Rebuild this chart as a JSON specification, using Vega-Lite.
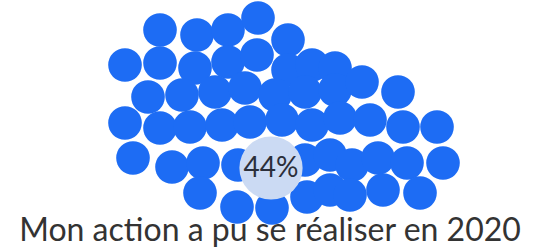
{
  "$schema": "https://vega.github.io/schema/vega-lite/v6.json",
  "width": 539,
  "height": 249,
  "autosize": "none",
  "padding": 0,
  "background": "white",
  "config": {"view": {"stroke": null}},
  "layer": [
    {
      "data": {"values": [
        {"x":160,"y":30},{"x":197,"y":35},{"x":228,"y":30},{"x":258,"y":18},{"x":288,"y":40},
        {"x":125,"y":65},{"x":160,"y":63},{"x":195,"y":68},{"x":228,"y":62},{"x":257,"y":55},{"x":288,"y":70},{"x":312,"y":65},{"x":335,"y":68},
        {"x":148,"y":97},{"x":182,"y":95},{"x":215,"y":92},{"x":245,"y":88},{"x":275,"y":95},{"x":305,"y":92},{"x":335,"y":90},{"x":362,"y":82},{"x":398,"y":92},
        {"x":125,"y":123},{"x":160,"y":128},{"x":190,"y":127},{"x":222,"y":125},{"x":250,"y":122},{"x":282,"y":120},{"x":312,"y":125},{"x":340,"y":118},{"x":370,"y":120},{"x":403,"y":127},{"x":437,"y":127},
        {"x":133,"y":158},{"x":172,"y":167},{"x":203,"y":163},{"x":238,"y":165},{"x":305,"y":160},{"x":330,"y":155},{"x":352,"y":165},{"x":378,"y":158},{"x":407,"y":163},{"x":443,"y":163},
        {"x":200,"y":193},{"x":237,"y":207},{"x":272,"y":208},{"x":307,"y":197},{"x":330,"y":190},{"x":350,"y":195},{"x":383,"y":190},{"x":420,"y":193}
      ]},
      "mark": {"type": "circle", "color": "#1d6cf4", "opacity": 1, "size": 1130},
      "encoding": {
        "x": {"field": "x", "type": "quantitative", "scale": {"domain": [0, 539]}, "axis": null},
        "y": {"field": "y", "type": "quantitative", "scale": {"domain": [0, 249], "reverse": true}, "axis": null}
      }
    },
    {
      "data": {"values": [{"x": 271, "y": 168, "label": "44%"}]},
      "layer": [
        {
          "mark": {"type": "circle", "color": "#cbdaf3", "opacity": 1, "size": 4000},
          "encoding": {
            "x": {"field": "x", "type": "quantitative", "scale": {"domain": [0, 539]}, "axis": null},
            "y": {"field": "y", "type": "quantitative", "scale": {"domain": [0, 249], "reverse": true}, "axis": null}
          }
        },
        {
          "mark": {"type": "text", "font": "Lato", "fontSize": 28, "color": "#2b2f3a", "baseline": "middle", "align": "center", "dy": 1},
          "encoding": {
            "x": {"field": "x", "type": "quantitative", "scale": {"domain": [0, 539]}, "axis": null},
            "y": {"field": "y", "type": "quantitative", "scale": {"domain": [0, 249], "reverse": true}, "axis": null},
            "text": {"field": "label"}
          }
        }
      ]
    },
    {
      "data": {"values": [{"x": 270, "y": 241, "label": "Mon action a pu se réaliser en 2020"}]},
      "mark": {"type": "text", "font": "Lato", "fontSize": 32, "color": "#333333", "baseline": "alphabetic", "align": "center"},
      "encoding": {
        "x": {"field": "x", "type": "quantitative", "scale": {"domain": [0, 539]}, "axis": null},
        "y": {"field": "y", "type": "quantitative", "scale": {"domain": [0, 249], "reverse": true}, "axis": null},
        "text": {"field": "label"}
      }
    }
  ]
}
